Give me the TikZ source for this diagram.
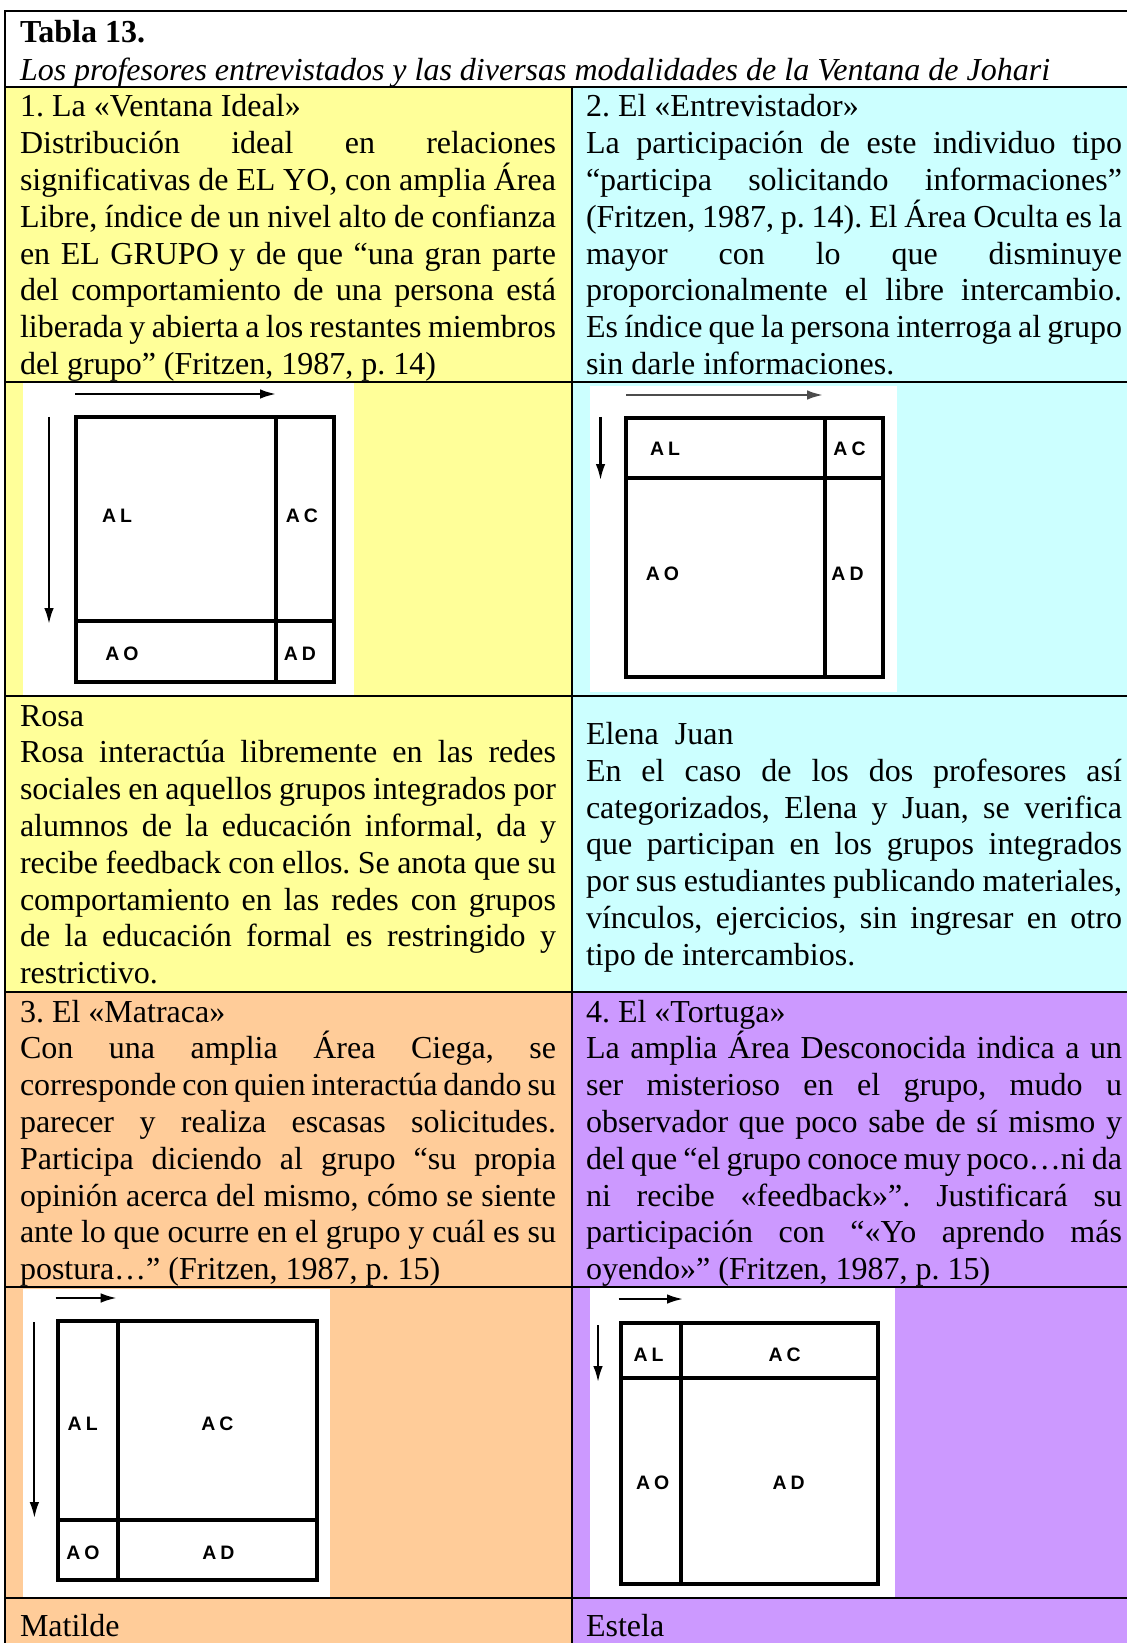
\documentclass[tikz,border=0pt]{standalone}
\usepackage{fontspec}
\setmainfont{Liberation Serif}
\newfontfamily\lblfont{Liberation Sans}
\usetikzlibrary{arrows.meta}
\definecolor{yel}{HTML}{FFFF99}
\definecolor{cya}{HTML}{CCFFFF}
\definecolor{ora}{HTML}{FFCC99}
\definecolor{vio}{HTML}{CC99FF}
\hbadness=10000 \hfuzz=6pt
\newcommand\JL[1]{\hbox to\hsize{#1}}
\newcommand\NL[1]{\hbox{#1}}
\newcommand\cellbox[1]{\vtop{\fontsize{12pt}{13.8pt}\selectfont\frenchspacing\hsize=201pt\baselineskip=13.8pt\lineskiplimit=-100pt\relax #1}}
\newcommand\LL[2]{#1\kern1.5pt#2}
\tikzset{
  cell/.style={anchor=base west, inner sep=0pt, outer sep=0pt},
  tline/.style={line width=0.8pt, black},
  jbox/.style={line width=1.3pt, black},
  jdiv/.style={line width=1.2pt, black},
  arr/.style={line width=0.8pt, black, -{Latex[length=6pt,width=3.6pt]}},
  lbl/.style={inner sep=0pt, font=\lblfont\bfseries\fontsize{7.3pt}{8pt}\selectfont},
}
\begin{document}
\begin{tikzpicture}[x=0.375pt,y=-0.375pt]
\useasboundingbox (0,0) rectangle (1127,1643);
% backgrounds
\fill[white] (0,0) rectangle (1127,1643);
\fill[yel] (5,87) rectangle (572,992);
\fill[cya] (572,87) rectangle (1127,992);
\fill[ora] (5,992) rectangle (572,1643);
\fill[vio] (572,992) rectangle (1127,1643);
% image backgrounds
\fill[white] (23,383) rectangle (354,696);
\fill[white] (590,386) rectangle (897,692);
\fill[white] (23,1289) rectangle (330,1598);
\fill[white] (590,1288) rectangle (895,1598);

% ---- Diagram 1 (Ventana Ideal)
\draw[jbox] (76,417) rectangle (334,682);
\draw[jdiv] (276,417) -- (276,682);
\draw[jdiv] (76,621) -- (334,621);
\draw[arr] (75,394) -- (276,394);
\draw[arr] (49,417) -- (49,624);
\node[lbl] (d1al) at (117,516) {\LL AL};
\node[lbl] (d1ac) at (302,516) {\LL AC};
\node[lbl] (d1ao) at (122,654) {\LL AO};
\node[lbl] (d1ad) at (300,654) {\LL AD};

% ---- Diagram 2 (Entrevistador)
\draw[jbox] (626,418) rectangle (883,677);
\draw[jdiv] (825,418) -- (825,677);
\draw[jdiv] (626,478) -- (883,478);
\draw[arr, black!70] (626,395) -- (823,395);
\draw[arr] (600.5,417) -- (600.5,480);
\node[lbl] (d2al) at (665,449) {\LL AL};
\node[lbl] (d2ac) at (849.5,449) {\LL AC};
\node[lbl] (d2ao) at (662.5,574) {\LL AO};
\node[lbl] (d2ad) at (847.5,574) {\LL AD};

% ---- Diagram 3 (Matraca)
\draw[jbox] (58,1321) rectangle (317,1580);
\draw[jdiv] (118,1321) -- (118,1580);
\draw[jdiv] (58,1520) -- (317,1520);
\draw[arr] (55.5,1298) -- (116.7,1298);
\draw[arr] (34.4,1322) -- (34.4,1518);
\node[lbl] (d3al) at (82.7,1424) {\LL AL};
\node[lbl] (d3ac) at (217.4,1424) {\LL AC};
\node[lbl] (d3ao) at (83,1552.7) {\LL AO};
\node[lbl] (d3ad) at (218.5,1552.7) {\LL AD};

% ---- Diagram 4 (Tortuga)
\draw[jbox] (621,1323) rectangle (878,1584);
\draw[jdiv] (681,1323) -- (681,1584);
\draw[jdiv] (621,1378) -- (878,1378);
\draw[arr] (618.6,1299) -- (683,1299);
\draw[arr] (598,1325) -- (598,1382);
\node[lbl] (d4al) at (648.6,1355) {\LL AL};
\node[lbl] (d4ac) at (784.6,1355) {\LL AC};
\node[lbl] (d4ao) at (652.6,1482.7) {\LL AO};
\node[lbl] (d4ad) at (788.6,1482.7) {\LL AD};

% ---- table rules
\foreach \yy in {11,87,382,696,992,1287,1598}
  \draw[tline] (4.5,\yy) -- (1127,\yy);
\draw[tline] (5,10.5) -- (5,1643);
\draw[tline] (572,87) -- (572,1643);

% ---- header
\node[cell, font=\bfseries\fontsize{12pt}{13.8pt}\selectfont] (title) at (20,43) {Tabla 13.};
\node[cell, font=\itshape\fontsize{12pt}{13.8pt}\selectfont] (subtitle) at (20,80.3) {Los profesores entrevistados y las diversas modalidades de la Ventana de Johari};

% ---- row 1
\node[cell] (c1l) at (20,117) {\cellbox{%
\NL{1. La «Ventana Ideal»}
\JL{Distribución ideal en relaciones}
\JL{significativas de EL YO, con amplia Área}
\JL{Libre, índice de un nivel alto de confianza}
\JL{en EL GRUPO y de que “una gran parte}
\JL{del comportamiento de una persona está}
\JL{liberada y abierta a los restantes miembros}
\NL{del grupo” (Fritzen, 1987, p. 14)}}};
\node[cell] (c1r) at (586,117) {\cellbox{%
\NL{2. El «Entrevistador»}
\JL{La participación de este individuo tipo}
\JL{“participa solicitando informaciones”}
\JL{(Fritzen, 1987, p. 14). El Área Oculta es la}
\JL{mayor con lo que disminuye}
\JL{proporcionalmente el libre intercambio.}
\JL{Es índice que la persona interroga al grupo}
\NL{sin darle informaciones.}}};

% ---- row 3
\node[cell] (c3l) at (20,726) {\cellbox{%
\NL{Rosa}
\JL{Rosa interactúa libremente en las redes}
\JL{sociales en aquellos grupos integrados por}
\JL{alumnos de la educación informal, da y}
\JL{recibe feedback con ellos. Se anota que su}
\JL{comportamiento en las redes con grupos}
\JL{de la educación formal es restringido y}
\NL{restrictivo.}}};
\node[cell] (c3r) at (586,744.5) {\cellbox{%
\NL{Elena\ \ Juan}
\JL{En el caso de los dos profesores así}
\JL{categorizados, Elena y Juan, se verifica}
\JL{que participan en los grupos integrados}
\JL{por sus estudiantes publicando materiales,}
\JL{vínculos, ejercicios, sin ingresar en otro}
\NL{tipo de intercambios.}}};

% ---- row 4
\node[cell] (c4l) at (20,1022) {\cellbox{%
\NL{3. El «Matraca»}
\JL{Con una amplia Área Ciega, se}
\JL{corresponde con quien interactúa dando su}
\JL{parecer y realiza escasas solicitudes.}
\JL{Participa diciendo al grupo “su propia}
\JL{opinión acerca del mismo, cómo se siente}
\JL{ante lo que ocurre en el grupo y cuál es su}
\NL{postura…” (Fritzen, 1987, p. 15)}}};
\node[cell] (c4r) at (586,1022) {\cellbox{%
\NL{4. El «Tortuga»}
\JL{La amplia Área Desconocida indica a un}
\JL{ser misterioso en el grupo, mudo u}
\JL{observador que poco sabe de sí mismo y}
\JL{del que “el grupo conoce muy poco…ni da}
\JL{ni recibe «feedback»”. Justificará su}
\JL{participación con “«Yo aprendo más}
\NL{oyendo»” (Fritzen, 1987, p. 15)}}};

% ---- row 6
\node[cell, font=\fontsize{12pt}{13.8pt}\selectfont] (c6l) at (20,1636) {Matilde};
\node[cell, font=\fontsize{12pt}{13.8pt}\selectfont] (c6r) at (586,1636) {Estela};
\end{tikzpicture}
\end{document}
